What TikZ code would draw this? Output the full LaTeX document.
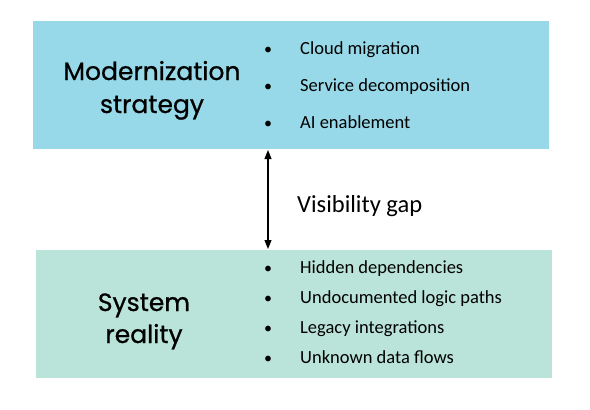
\documentclass[tikz,border=0pt]{standalone}
\usepackage{fontspec}
\setmainfont{Carlito}
\newfontfamily\headfont[FakeBold=0.8]{Poppins}
\usetikzlibrary{arrows.meta}
\definecolor{topblue}{HTML}{97D9E8}
\definecolor{botgreen}{HTML}{BAE4D9}
\tikzset{
  panel/.style={rectangle, draw=none, minimum width=516pt, minimum height=128pt, inner sep=0pt},
  headtxt/.style={font=\headfont\fontsize{25}{33}\selectfont, align=center, anchor=base, inner sep=0pt},
  itemtxt/.style={font=\fontsize{18.5}{20}\selectfont, anchor=base west, inner sep=0pt},
  bul/.style={font=\fontsize{16}{18}\selectfont, anchor=base, inner sep=0pt},
  gaptxt/.style={font=\fontsize{24.5}{28}\selectfont, anchor=base west, inner sep=0pt},
  gaparrow/.style={{Triangle[width=7pt,length=9pt]}-{Triangle[width=7pt,length=9pt]}, line width=1.1pt}
}
\begin{document}
\begin{tikzpicture}[x=1pt,y=-1pt]
\useasboundingbox (0,0) rectangle (590,410);
\node[panel, fill=topblue] (top) at (291,85) {};
\node[panel, fill=botgreen] (bot) at (294,314) {};
\node[headtxt] (h1a) at (152,80) {Modernization};
\node[headtxt] (h1b) at (152,113) {strategy};
\node[headtxt] (h2a) at (144,311) {System};
\node[headtxt] (h2b) at (144,343) {reality};
\foreach \y/\t [count=\i] in {54/Cloud migration, 91/Service decomposition, 128/AI enablement}{
  \node[bul] (tb\i) at (268,\y) {•};
  \node[itemtxt] (ti\i) at (300,\y) {\t};
}
\foreach \y/\t [count=\i] in {273/Hidden dependencies, 303/Undocumented logic paths, 333/Legacy integrations, 363/Unknown data flows}{
  \node[bul] (bb\i) at (268,\y) {•};
  \node[itemtxt] (bi\i) at (300,\y) {\t};
}
\node[gaptxt] (gap) at (297,212) {Visibility gap};
\coordinate (aT) at (268,150);
\coordinate (aB) at (268,249);
\draw[gaparrow] (aT) -- (aB);
\end{tikzpicture}
\end{document}
